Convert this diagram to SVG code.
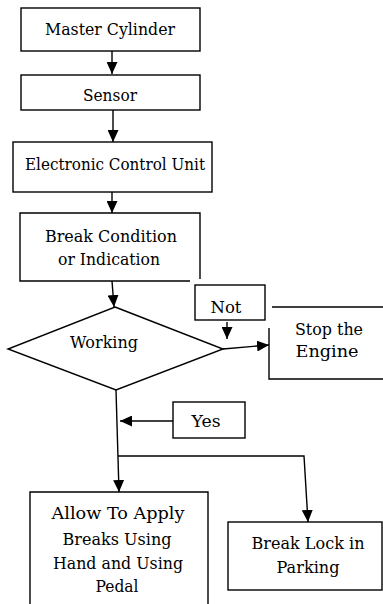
<svg xmlns="http://www.w3.org/2000/svg" width="383" height="604" viewBox="0 0 383 604">
<style>
.b{fill:none;stroke:#000;stroke-width:1.4}
.t{font-family:'DejaVu Serif',serif;font-size:17.5px;fill:#000;text-anchor:middle}
.c{fill:none;stroke:#000;stroke-width:1.4}
</style>
<defs>
<marker id="ah" viewBox="0 0 12 11" refX="12" refY="5.5" markerUnits="userSpaceOnUse" markerWidth="12" markerHeight="11" orient="auto">
<path d="M0,0 L12,5.5 L0,11 z" fill="#000"/>
</marker>
</defs>
<rect width="383" height="604" fill="#fff"/>
<g id="master">
<rect class="b" x="21" y="8" width="179" height="43"/>
<text class="t" x="110" y="35" textLength="130" lengthAdjust="spacingAndGlyphs">Master Cylinder</text>
</g>
<g id="sensor">
<rect class="b" x="21" y="75" width="179" height="35"/>
<text class="t" x="110" y="101" textLength="54" lengthAdjust="spacingAndGlyphs">Sensor</text>
</g>
<g id="ecu">
<rect class="b" x="13" y="142" width="199" height="50"/>
<text class="t" x="115" y="170" textLength="180" lengthAdjust="spacingAndGlyphs">Electronic Control Unit</text>
</g>
<g id="condition">
<path class="b" d="M190,281 H20 V213 H200 V279"/>
<text class="t" x="111" y="242" textLength="132" lengthAdjust="spacingAndGlyphs">Break Condition</text>
<text class="t" x="109" y="265" textLength="102" lengthAdjust="spacingAndGlyphs">or Indication</text>
</g>
<g id="working">
<path class="b" d="M115,307 L223,349 L116,390 L8,349 Z"/>
<text class="t" x="104" y="348" textLength="68" lengthAdjust="spacingAndGlyphs">Working</text>
</g>
<g id="not">
<rect class="b" x="195" y="285" width="70" height="35"/>
<text class="t" x="226" y="313" textLength="31" lengthAdjust="spacingAndGlyphs">Not</text>
</g>
<g id="stop">
<path class="b" d="M272,307 H383 M269,328 V379 H383"/>
<text class="t" x="329" y="335" textLength="68" lengthAdjust="spacingAndGlyphs">Stop the</text>
<text class="t" x="327" y="357" textLength="63" lengthAdjust="spacingAndGlyphs">Engine</text>
</g>
<g id="yes">
<rect class="b" x="173" y="402" width="72" height="36"/>
<text class="t" x="206" y="427" textLength="29" lengthAdjust="spacingAndGlyphs">Yes</text>
</g>
<g id="allow">
<path class="b" d="M30,606 V492 H208 V606"/>
<text class="t" x="118" y="519" textLength="133" lengthAdjust="spacingAndGlyphs">Allow To Apply</text>
<text class="t" x="117" y="545" textLength="109" lengthAdjust="spacingAndGlyphs">Breaks Using</text>
<text class="t" x="118" y="569" textLength="130" lengthAdjust="spacingAndGlyphs">Hand and Using</text>
<text class="t" x="117" y="592" textLength="43" lengthAdjust="spacingAndGlyphs">Pedal</text>
</g>
<g id="lock">
<rect class="b" x="228" y="522" width="154" height="68"/>
<text class="t" x="308" y="549" textLength="113" lengthAdjust="spacingAndGlyphs">Break Lock in</text>
<text class="t" x="308" y="573" textLength="63" lengthAdjust="spacingAndGlyphs">Parking</text>
</g>
<g id="connectors">
<path class="c" d="M112,51 V74" marker-end="url(#ah)"/>
<path class="c" d="M113,110 V142" marker-end="url(#ah)"/>
<path class="c" d="M112,192 V213" marker-end="url(#ah)"/>
<path class="c" d="M112,281 L114,307" marker-end="url(#ah)"/>
<path class="c" d="M227,322 V339" marker-end="url(#ah)"/>
<path class="c" d="M223,349 L269,345" marker-end="url(#ah)"/>
<path class="c" d="M173,421 H120" marker-end="url(#ah)"/>
<path class="c" d="M116,390 L119,492" marker-end="url(#ah)"/>
<path class="c" d="M118,456 H304 L308,522" marker-end="url(#ah)"/>
</g>
</svg>
